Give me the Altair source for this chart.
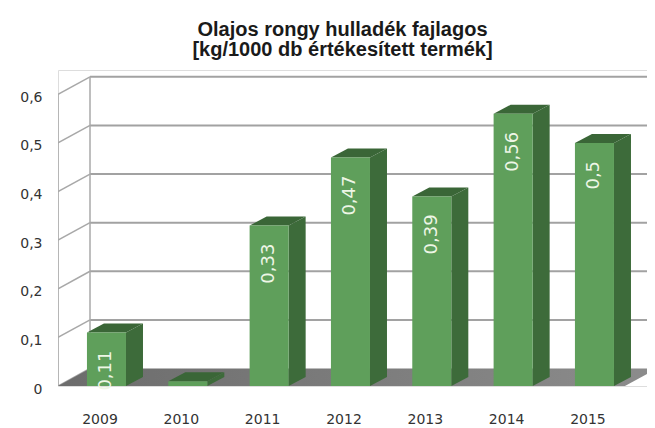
import altair as alt
import pandas as pd

# ---- data ----
years = ["2009", "2010", "2011", "2012", "2013", "2014", "2015"]
values = [0.11, 0.0, 0.33, 0.47, 0.39, 0.56, 0.50]
y_ticks = [0.0, 0.1, 0.2, 0.3, 0.4, 0.5, 0.6]
title_lines = ["Olajos rongy hulladék fajlagos", "[kg/1000 db értékesített termék]"]

# ---- 3D styling constants (in data units) ----
X_MIN, X_MAX = -0.596, 6.646
Y_MAX = 0.65
HALF = 0.24      # half width of bar front face
BDX, BDY = 0.209, 0.0185   # bar depth
MIN_H = 0.01     # minimum drawn height for empty bars
WDX, WDY = 0.3935, 0.036   # wall depth
FLOOR_RIGHT = 6.375

xs = alt.Scale(domain=[X_MIN, X_MAX], nice=False, zero=False)
ys = alt.Scale(domain=[0, Y_MAX], nice=False, zero=False)

year_expr = "[" + ",".join(f"'{y}'" for y in years) + "][datum.value]"
x_axis = alt.Axis(values=list(range(len(years))), labelExpr=year_expr, title=None,
                  grid=False, domain=False, ticks=False, tickSize=0, labelPadding=26,
                  labelOffset=-7, labelFont="DejaVu Sans", labelFontSize=14,
                  labelColor="#333333", labelFlush=False, labelOverlap=False)
y_axis = alt.Axis(values=y_ticks,
                  labelExpr="datum.value == 0 ? '0' : replace(format(datum.value, '.1f'), '.', ',')",
                  title=None, grid=False, domain=False, ticks=False, tickSize=0,
                  labelPadding=16, labelOffset=3, labelFont="DejaVu Sans",
                  labelFontSize=14, labelColor="#333333", labelOverlap=False)


def X(f):
    return alt.X(f"{f}:Q", scale=xs, axis=x_axis)


def Y(f):
    return alt.Y(f"{f}:Q", scale=ys, axis=y_axis)


# ---- wall / frame lines ----
rules = []
back_left = X_MIN + WDX
for v in y_ticks:
    # left wall diagonal
    rules.append({"xa": X_MIN, "xb": back_left, "ya": v, "yb": v + WDY, "kind": "side"})
    if v > 0:
        rules.append({"xa": back_left, "xb": X_MAX + 1, "ya": v + WDY, "yb": v + WDY, "kind": "back"})
rules.append({"xa": X_MIN, "xb": X_MIN, "ya": 0, "yb": y_ticks[-1], "kind": "side"})
rules.append({"xa": back_left, "xb": back_left, "ya": WDY, "yb": y_ticks[-1] + WDY, "kind": "side"})
rules_df = pd.DataFrame(rules)

back_lines = alt.Chart(rules_df[rules_df.kind == "back"]).mark_rule(
    color="#a2a2a2", strokeWidth=2, clip=True
).encode(x=X("xa"), x2="xb", y=Y("ya"), y2="yb")
side_lines = alt.Chart(rules_df[rules_df.kind == "side"]).mark_rule(
    color="#a8a8a8", strokeWidth=1.5, clip=True
).encode(x=X("xa"), x2="xb", y=Y("ya"), y2="yb")

# ---- floor ----
floor_df = pd.DataFrame({
    "fx": [X_MIN, back_left, FLOOR_RIGHT, FLOOR_RIGHT + WDX],
    "fy": [0, WDY, WDY, WDY],
    "fy2": [0, 0, 0, WDY],
})
floor = alt.Chart(floor_df).mark_area(
    clip=True,
    color=alt.Gradient(gradient="linear",
                       stops=[alt.GradientStop(color="#6c6c6c", offset=0),
                              alt.GradientStop(color="#8c8c8c", offset=1)],
                       x1=0, x2=1, y1=0, y2=0),
).encode(x=X("fx"), y=Y("fy"), y2="fy2")

# ---- bars ----
bars = pd.DataFrame({"i": range(len(years)), "year": years, "v": values})
bars["h"] = bars["v"].clip(lower=MIN_H)
bars["x0"] = bars["i"] - HALF
bars["x1"] = bars["i"] + HALF
bars["label"] = bars["v"].map(lambda v: f"{v:g}".replace(".", ","))

side_rows, top_rows = [], []
for _, r in bars.iterrows():
    side_rows.append({"year": r.year, "sx": r.x1, "sy": r.h, "sy2": 0})
    side_rows.append({"year": r.year, "sx": r.x1 + BDX, "sy": r.h + BDY, "sy2": BDY})
    top_rows.append({"year": r.year, "tx": r.x0, "ty": r.h, "ty2": r.h})
    top_rows.append({"year": r.year, "tx": r.x0 + BDX, "ty": r.h + BDY, "ty2": r.h})
    top_rows.append({"year": r.year, "tx": r.x1, "ty": r.h + BDY, "ty2": r.h})
    top_rows.append({"year": r.year, "tx": r.x1 + BDX, "ty": r.h + BDY, "ty2": r.h + BDY})
side_df = pd.DataFrame(side_rows)
top_df = pd.DataFrame(top_rows)

side = alt.Chart(side_df).mark_area(color="#3d6b3a").encode(
    x=X("sx"), y=Y("sy"), y2="sy2", detail="year:N")
top = alt.Chart(top_df).mark_area(color="#3a6637").encode(
    x=X("tx"), y=Y("ty"), y2="ty2", detail="year:N")
front = alt.Chart(bars).mark_bar(color="#5f9f5b", cornerRadius=0).encode(
    x=X("x0"), x2="x1", y=Y("h"), y2=alt.datum(0))

labels = alt.Chart(bars[bars.v > 0]).mark_text(
    angle=270, align="right", baseline="middle", dx=-18,
    font="DejaVu Sans", fontSize=18, color="#eef6e6"
).encode(x=X("i"), y=Y("v"), text="label:N")

chart = alt.layer(back_lines, side_lines, floor, side, top, front, labels).properties(
    width=589, height=316,
    padding={"left": 50, "top": 62, "right": 0, "bottom": 40},
    autosize=alt.AutoSizeParams(type="none"),
    title=alt.Title(title_lines, font="Liberation Sans", fontSize=20, fontWeight="bold",
                    color="#1a1a1a", lineHeight=20, anchor="middle", dx=-10, offset=10),
).configure_view(stroke=None).configure(background="white")

chart.save("out.html", embed_options={"renderer": "svg", "actions": False})
